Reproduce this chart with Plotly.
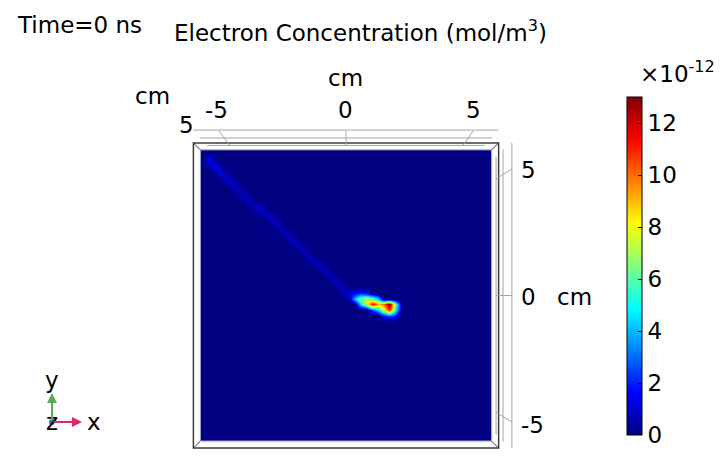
import numpy as np
import plotly.graph_objects as go

# --- data (concentration in units of 1e-12 mol/m^3, positions in cm) ---
step = 0.25
grid_x = np.arange(-6.125, 6.126, step)   # cell centres of the slice
grid_y = np.arange(-6.125, 6.126, step)

# faint streak running to the upper-left corner (centre line)
streak_x = [-5.875, -5.625, -5.375, -5.125, -4.875, -4.625, -4.375, -4.125, -3.875,
            -3.625, -3.375, -3.125, -2.875, -2.625, -2.375, -2.125, -1.875, -1.625,
            -1.375, -1.125, -0.875, -0.625, -0.375, -0.125, 0.125]
streak_y = [5.76, 5.53, 5.29, 5.05, 4.81, 4.58, 4.34, 4.10, 3.86, 3.63, 3.39, 3.15,
            2.91, 2.68, 2.44, 2.20, 1.96, 1.73, 1.49, 1.25, 1.01, 0.78, 0.54, 0.30, 0.06]
streak_v = [1.9, 1.6, 1.3, 1.1, 1.0, 0.9, 0.9, 0.9, 0.9, 0.9, 0.9, 0.9, 0.9,
            0.9, 0.9, 0.9, 0.8, 0.8, 0.8, 0.8, 0.8, 0.8, 0.8, 0.9, 1.3]

# the hot blob (streamer head)
blob_x = [0.375, 0.625, 0.875,
          0.375, 0.625, 0.875, 1.125, 1.375,
          0.625, 0.875, 1.125, 1.375, 1.625, 1.875, 2.125,
          1.125, 1.375, 1.625, 1.875, 2.125,
          1.625, 1.875, 2.125]
blob_y = [0.125, 0.125, 0.125,
          -0.125, -0.125, -0.125, -0.125, -0.125,
          -0.375, -0.375, -0.375, -0.375, -0.375, -0.375, -0.375,
          -0.625, -0.625, -0.625, -0.625, -0.625,
          -0.875, -0.875, -0.875]
blob_v = [1.5, 2.0, 1.5,
          4.0, 6.5, 7.5, 6.5, 4.0,
          4.5, 7.5, 11.8, 9.0, 10.0, 12.9, 6.0,
          2.5, 4.5, 7.5, 11.0, 5.0,
          1.5, 2.5, 1.5]

cbar_ticks = [0, 2, 4, 6, 8, 10, 12]
zmax = 13

# build the field on the grid (streak: nearest row full, next row half)
z = np.zeros((len(grid_y), len(grid_x)))
for xv, yv, vv in zip(streak_x, streak_y, streak_v):
    j = int(np.rint((xv - grid_x[0]) / step))
    f = (yv - grid_y[0]) / step
    near = int(np.rint(f))
    other = near + 1 if f > near else near - 1
    z[near, j] = max(z[near, j], vv)
    z[other, j] = max(z[other, j], 0.5 * vv)
for xv, yv, vv in zip(blob_x, blob_y, blob_v):
    i = int(np.rint((yv - grid_y[0]) / step))
    j = int(np.rint((xv - grid_x[0]) / step))
    z[i, j] = max(z[i, j], vv)

jet = [[0, "rgb(0,0,128)"], [0.125, "rgb(0,0,255)"], [0.375, "rgb(0,255,255)"],
       [0.625, "rgb(255,255,0)"], [0.875, "rgb(255,0,0)"], [1, "rgb(128,0,0)"]]

# page has an 8px body margin, so the figure is placed at (8, 8)
OFF = 8
W, H = 718, 467
S = 23.3          # px per cm
CX, CY = 346, 295.5   # screen position of the slice centre


def P(px, py):
    return (px - OFF) / W, 1 - (py - OFF) / H


FONT = "DejaVu Sans"
FS = 23

fig = go.Figure(go.Heatmap(
    x=grid_x, y=grid_y, z=z, zmin=0, zmax=zmax, colorscale=jet, zsmooth="best",
    hoverinfo="skip",
    colorbar=dict(x=(627 - OFF) / W, xanchor="left", xpad=0, y=1 - (266 - OFF) / H,
                  yanchor="middle", ypad=0, len=338 / H, lenmode="fraction", thickness=15,
                  outlinewidth=1, outlinecolor="black", ticks="inside", ticklen=4,
                  tickcolor="black", tickvals=cbar_ticks, tickprefix="\u2009",
                  tickfont=dict(family=FONT, size=FS, color="black"))
))

# box frame drawn in cm
inner, outer = 6.25, 6.55
frame = dict(color="rgb(60,60,60)", width=1.5)
gray = dict(color="rgb(165,165,165)", width=1)
shapes = [
    dict(type="rect", x0=-outer, y0=-outer, x1=outer, y1=outer, line=frame),
    dict(type="rect", x0=-inner, y0=-inner, x1=inner, y1=inner,
         line=dict(color="rgb(165,165,200)", width=1)),
]
for sx in (-1, 1):
    for sy in (-1, 1):
        shapes.append(dict(type="line", x0=sx * outer, y0=sy * outer,
                           x1=sx * inner, y1=sy * inner,
                           line=dict(color="rgb(60,60,60)", width=1)))
# axis lines + ticks around the box
segs = [
    (-6.55, 7.10, 6.55, 7.10), (-6.27, 6.76, 6.27, 6.76), (-5.95, 6.44, 5.95, 6.44),
    (-5.45, 7.06, -4.98, 6.44), (0, 7.06, 0, 6.44), (5.45, 7.06, 5.02, 6.44),
    (7.12, -6.55, 7.12, 6.55), (6.74, -6.27, 6.74, 6.27), (6.44, -5.95, 6.44, 5.95),
    (7.12, 5.43, 6.44, 5.0), (7.12, 0, 6.44, 0), (7.12, -5.43, 6.44, -5.0),
]
for x0, y0, x1, y1 in segs:
    shapes.append(dict(type="line", x0=x0, y0=y0, x1=x1, y1=y1, line=gray))

# triad origin dot
ox, oy = P(52, 422)
shapes.append(dict(type="circle", xref="paper", yref="paper",
                   x0=ox - 3 / W, x1=ox + 3 / W, y0=oy - 3 / H, y1=oy + 3 / H,
                   fillcolor="rgb(60,120,200)", line=dict(width=0)))

texts = [
    ("Time=0 ns", 15, 25, "left"),
    ("Electron Concentration (mol/m<sup>3</sup>)", 360, 31, "center"),
    ("cm", 345, 78, "center"), ("cm", 152, 96, "center"),
    ("-5", 216, 110, "center"), ("0", 345, 110, "center"), ("5", 473, 110, "center"),
    ("5", 186, 125, "center"),
    ("5", 519, 170, "left"), ("0", 519, 297, "left"), ("-5", 519, 425, "left"),
    ("cm", 555, 297, "left"),
    ("×10<sup>-12</sup>", 638, 72, "left"),
    ("y", 52, 380, "center"), ("z", 52, 422, "center"), ("x", 94, 422, "center"),
]
annotations = []
for t, px, py, anc in texts:
    ax_, ay_ = P(px, py)
    annotations.append(dict(text=t, x=ax_, y=ay_, xref="paper", yref="paper",
                            xanchor=anc, yanchor="middle", showarrow=False,
                            font=dict(family=FONT, size=FS, color="black")))
# triad arrows
hx, hy = P(52, 393)
annotations.append(dict(text="", x=hx, y=hy, xref="paper", yref="paper", ax=0, ay=29,
                        showarrow=True, arrowhead=2, arrowsize=1, arrowwidth=2,
                        arrowcolor="rgb(90,170,90)"))
hx, hy = P(82, 422)
annotations.append(dict(text="", x=hx, y=hy, xref="paper", yref="paper", ax=-30, ay=0,
                        showarrow=True, arrowhead=2, arrowsize=1, arrowwidth=2,
                        arrowcolor="rgb(220,40,100)"))

fig.update_layout(
    width=W, height=H, margin=dict(l=0, r=0, t=0, b=0),
    paper_bgcolor="white", plot_bgcolor="white",
    xaxis=dict(visible=False, range=[(OFF - CX) / S, (OFF + W - CX) / S], fixedrange=True),
    yaxis=dict(visible=False, range=[(CY - OFF - H) / S, (CY - OFF) / S], fixedrange=True),
    shapes=shapes, annotations=annotations, showlegend=False,
    font=dict(family=FONT, color="black"),
)

fig.write_html("out.html")
